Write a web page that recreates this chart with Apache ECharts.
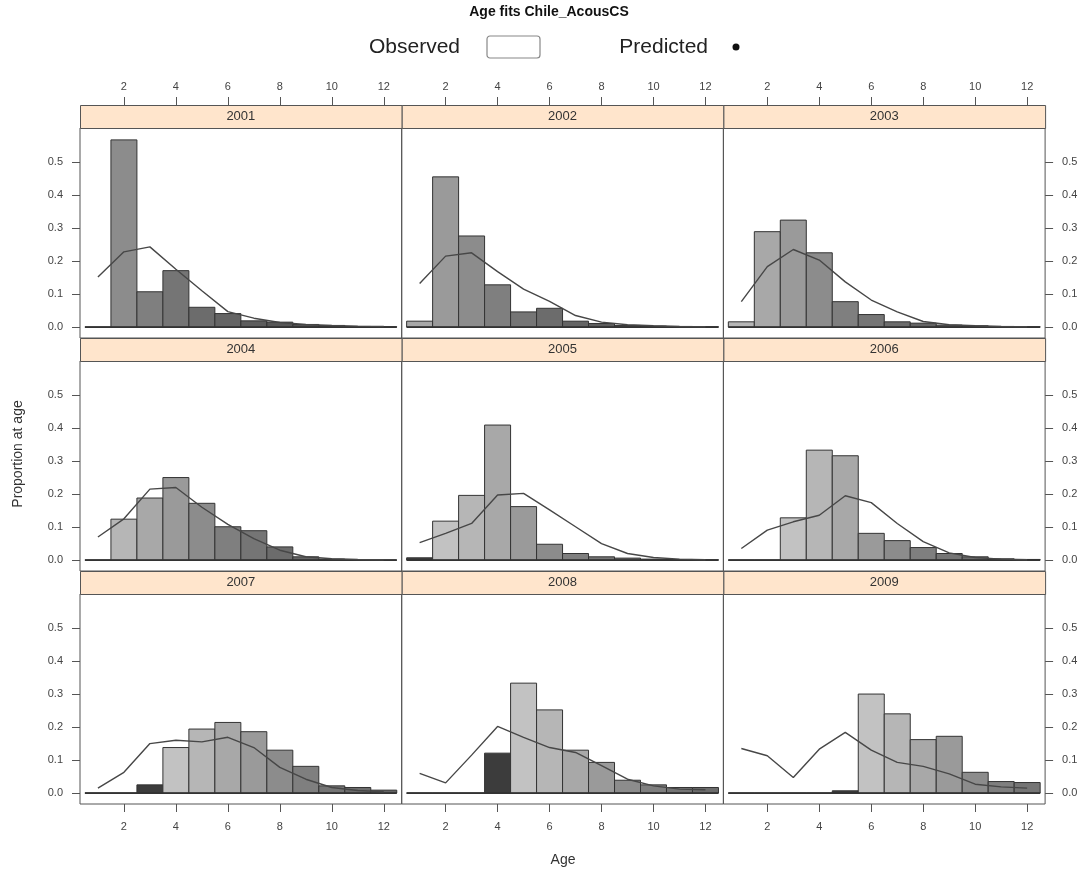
<!DOCTYPE html>
<html><head><meta charset="utf-8">
<script src="https://cdn.jsdelivr.net/npm/echarts@6/dist/echarts.min.js"></script>
<style>html,body{margin:0;padding:0;background:#fff}#c{width:1090px;height:879px}</style>
</head><body><div id="c"></div>
<script>
// ---------- data ----------
const years = [2001, 2002, 2003, 2004, 2005, 2006, 2007, 2008, 2009];
const ages = [1, 2, 3, 4, 5, 6, 7, 8, 9, 10, 11, 12];
const xTicks = [2, 4, 6, 8, 10, 12];
const yTicks = [0, 0.1, 0.2, 0.3, 0.4, 0.5];

const obs2001 = [0, 0.567, 0.107, 0.171, 0.060, 0.041, 0.019, 0.015, 0.008, 0.005, 0.002, 0.001];
const obs2002 = [0.018, 0.455, 0.276, 0.128, 0.046, 0.057, 0.018, 0.011, 0.005, 0.003, 0.002, 0.001];
const obs2003 = [0.016, 0.289, 0.324, 0.225, 0.077, 0.038, 0.016, 0.012, 0.006, 0.004, 0.002, 0.001];
const obs2004 = [0, 0.124, 0.188, 0.250, 0.172, 0.101, 0.089, 0.040, 0.010, 0.003, 0.001, 0];
const obs2005 = [0.007, 0.118, 0.196, 0.409, 0.162, 0.048, 0.020, 0.010, 0.006, 0.003, 0.002, 0.001];
const obs2006 = [0, 0, 0.128, 0.333, 0.316, 0.081, 0.059, 0.038, 0.020, 0.010, 0.004, 0.002];
const obs2007 = [0, 0, 0.025, 0.138, 0.194, 0.214, 0.186, 0.130, 0.081, 0.022, 0.017, 0.009];
const obs2008 = [0, 0, 0, 0.121, 0.333, 0.252, 0.130, 0.093, 0.039, 0.025, 0.017, 0.017];
const obs2009 = [0, 0, 0, 0, 0.007, 0.300, 0.240, 0.162, 0.172, 0.063, 0.035, 0.032];

const pred2001 = [0.152, 0.228, 0.243, 0.175, 0.110, 0.047, 0.027, 0.014, 0.008, 0.005, 0.003, 0.002];
const pred2002 = [0.132, 0.215, 0.225, 0.168, 0.115, 0.078, 0.035, 0.015, 0.007, 0.004, 0.002, 0.001];
const pred2003 = [0.077, 0.183, 0.235, 0.203, 0.137, 0.082, 0.046, 0.017, 0.007, 0.004, 0.002, 0.001];
const pred2004 = [0.070, 0.125, 0.215, 0.220, 0.160, 0.108, 0.065, 0.030, 0.010, 0.004, 0.002, 0.001];
const pred2005 = [0.053, 0.081, 0.111, 0.197, 0.202, 0.152, 0.101, 0.050, 0.020, 0.008, 0.003, 0.001];
const pred2006 = [0.035, 0.091, 0.116, 0.136, 0.195, 0.174, 0.111, 0.056, 0.022, 0.008, 0.003, 0.001];
const pred2007 = [0.015, 0.063, 0.150, 0.160, 0.155, 0.169, 0.138, 0.078, 0.042, 0.017, 0.008, 0.004];
const pred2008 = [0.060, 0.031, 0.115, 0.202, 0.169, 0.138, 0.123, 0.083, 0.042, 0.022, 0.012, 0.010];
const pred2009 = [0.135, 0.113, 0.047, 0.133, 0.184, 0.130, 0.093, 0.081, 0.058, 0.027, 0.019, 0.015];

const observed = [obs2001, obs2002, obs2003, obs2004, obs2005, obs2006, obs2007, obs2008, obs2009];
const predicted = [pred2001, pred2002, pred2003, pred2004, pred2005, pred2006, pred2007, pred2008, pred2009];

// ---------- styling ----------
const cohortGray = {
  2008: '#d4d4d4', 2007: '#d0d0d0', 2006: '#cccccc', 2005: '#c8c8c8', 2004: '#3c3c3c',
  2003: '#c2c2c2', 2002: '#b6b6b6', 2001: '#a8a8a8', 2000: '#9a9a9a', 1999: '#8c8c8c',
  1998: '#7f7f7f', 1997: '#757575', 1996: '#6c6c6c', 1995: '#646464', 1994: '#5d5d5d',
  1993: '#575757', 1992: '#525252', 1991: '#4d4d4d', 1990: '#494949', 1989: '#454545'
};
const FONT = '"Liberation Sans", Arial, sans-serif';
const L0 = 80, COLW = 321.7, T0 = 128, ROWH = 233, PLOTH = 210, STRIPH = 23;
const XMIN = 0.31, XMAX = 12.69, YMIN = -0.033, YMAX = 0.603;
const tickStyle = {color: '#555', width: 1};
const labelStyle = {fontSize: 11, color: '#444', fontFamily: FONT};

const grids = [], xAxes = [], yAxes = [], series = [], graphics = [];

years.forEach((yr, i) => {
  const r = Math.floor(i / 3), c = i % 3;
  const gl = L0 + c * COLW, gt = T0 + r * ROWH;
  grids.push({left: gl, top: gt, width: COLW, height: PLOTH, show: true,
    borderColor: '#555', borderWidth: 1, backgroundColor: 'transparent', outerBoundsMode: 'none'});
  xAxes.push({type: 'value', gridIndex: i, min: XMIN, max: XMAX, show: r === 2,
    position: 'bottom', axisLine: {show: false, onZero: false}, splitLine: {show: false},
    axisTick: {show: true, customValues: xTicks, length: 8, lineStyle: tickStyle},
    axisLabel: Object.assign({customValues: xTicks, margin: 17}, labelStyle)});
  yAxes.push({type: 'value', gridIndex: i, min: YMIN, max: YMAX, show: c !== 1,
    position: c === 2 ? 'right' : 'left',
    axisLine: {show: false, onZero: false}, splitLine: {show: false},
    axisTick: {show: true, customValues: yTicks, length: 8, lineStyle: tickStyle},
    axisLabel: Object.assign({customValues: yTicks, margin: 17, formatter: v => v.toFixed(1)}, labelStyle)});

  const obs = observed[i], pred = predicted[i];
  series.push({type: 'custom', xAxisIndex: i, yAxisIndex: i, z: 2,
    data: ages.map((a, k) => [a, obs[k]]), encode: {x: 0, y: 1},
    renderItem: function (params, api) {
      const a = api.value(0), v = api.value(1);
      const p0 = api.coord([a - 0.5, 0]), p1 = api.coord([a + 0.5, v]);
      return {type: 'rect', shape: {x: p0[0], y: p1[1], width: p1[0] - p0[0], height: p0[1] - p1[1]},
        style: {fill: cohortGray[yr - a] || '#888', stroke: '#333', lineWidth: 1}};
    }});
  series.push({type: 'line', xAxisIndex: i, yAxisIndex: i, z: 3, symbol: 'none',
    data: [[ages[0] - 0.5, 0], [ages[ages.length - 1] + 0.5, 0]],
    lineStyle: {color: '#333', width: 1.6}, silent: true});
  series.push({type: 'line', xAxisIndex: i, yAxisIndex: i, z: 4, symbol: 'none', showSymbol: false,
    data: ages.map((a, k) => [a, pred[k]]),
    lineStyle: {color: '#474747', width: 1.4}});

  graphics.push({type: 'rect', left: gl, top: gt - STRIPH, z: 10,
    shape: {width: COLW, height: STRIPH},
    style: {fill: '#ffe5cc', stroke: '#555', lineWidth: 1}});
  graphics.push({type: 'text', x: gl + COLW / 2, y: gt - STRIPH / 2, z: 11,
    style: {text: String(yr), fill: '#333', font: '13px ' + FONT, textAlign: 'center', textVerticalAlign: 'middle'}});
});

// top axes (above the strips of the first row), on their own grids
for (let c = 0; c < 3; c++) {
  const gi = grids.length;
  grids.push({left: L0 + c * COLW, top: T0 - STRIPH, width: COLW, height: PLOTH + STRIPH, show: false,
    outerBoundsMode: 'none'});
  xAxes.push({type: 'value', gridIndex: gi, min: XMIN, max: XMAX, position: 'top',
    axisLine: {show: false, onZero: false}, splitLine: {show: false},
    axisTick: {show: true, customValues: xTicks, length: 8, lineStyle: tickStyle},
    axisLabel: Object.assign({customValues: xTicks, margin: 13}, labelStyle)});
  yAxes.push({type: 'value', gridIndex: gi, min: 0, max: 1, show: false});
}

// title, legend, axis titles
graphics.push({type: 'text', x: 549, y: 12, z: 11,
  style: {text: 'Age fits Chile_AcousCS', fill: '#111', font: 'bold 14px ' + FONT, textAlign: 'center', textVerticalAlign: 'middle'}});
graphics.push({type: 'text', x: 460, y: 47, z: 11,
  style: {text: 'Observed', fill: '#222', font: '21px ' + FONT, textAlign: 'right', textVerticalAlign: 'middle'}});
graphics.push({type: 'rect', x: 487, y: 36, z: 11, shape: {width: 53, height: 22, r: 3},
  style: {fill: '#fff', stroke: '#888', lineWidth: 1.2}});
graphics.push({type: 'text', x: 708, y: 47, z: 11,
  style: {text: 'Predicted', fill: '#222', font: '21px ' + FONT, textAlign: 'right', textVerticalAlign: 'middle'}});
graphics.push({type: 'circle', x: 736, y: 47, z: 11, shape: {r: 3.5}, style: {fill: '#111'}});
graphics.push({type: 'text', x: 18, y: 454, z: 11, rotation: Math.PI / 2,
  style: {text: 'Proportion at age', fill: '#333', font: '14px ' + FONT, textAlign: 'center', textVerticalAlign: 'middle'}});
graphics.push({type: 'text', x: 563, y: 860, z: 11,
  style: {text: 'Age', fill: '#333', font: '14px ' + FONT, textAlign: 'center', textVerticalAlign: 'middle'}});

const chart = echarts.init(document.getElementById('c'), null, {renderer: 'canvas'});
chart.setOption({animation: false, backgroundColor: '#fff', grid: grids, xAxis: xAxes, yAxis: yAxes,
  series: series, graphic: graphics});
</script></body></html>
